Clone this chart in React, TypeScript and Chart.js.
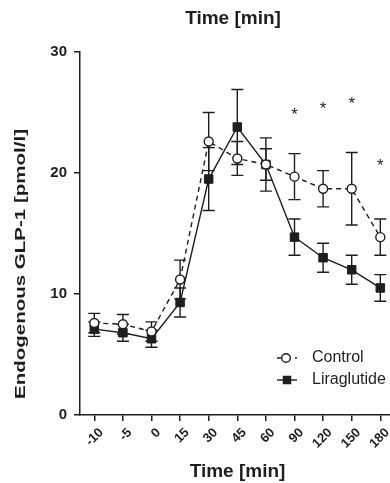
import { useEffect, useRef } from 'react';
import { Chart, registerables } from 'chart.js';

Chart.register(...registerables);

// ---- data ----
const timeLabels = ['-10', '-5', '0', '15', '30', '45', '60', '90', '120', '150', '180'];
const controlMean = [7.6, 7.5, 6.9, 11.2, 22.6, 21.2, 20.7, 19.7, 18.7, 18.7, 14.7];
const controlSem = [0.8, 0.8, 0.8, 1.6, 2.4, 1.4, 1.3, 1.9, 1.5, 3.0, 1.5];
const liraMean = [7.1, 6.8, 6.3, 9.3, 19.5, 23.8, 20.7, 14.7, 13.0, 12.0, 10.5];
const liraSem = [0.6, 0.7, 0.7, 1.2, 2.6, 3.1, 2.2, 1.5, 1.2, 1.2, 1.1];
const starLevel: (number | null)[] = [null, null, null, null, null, null, null, 25.0, 25.5, 25.9, 20.8];
const yMin = 0;
const yMax = 30;
const yStep = 10;
const seriesNames = ['Control', 'Liraglutide'];
const axisTitleX = 'Time [min]';
const axisTitleY = 'Endogenous GLP-1 [pmol/l]';

const FONT = '"Liberation Sans", Arial, Helvetica, sans-serif';
const INK = '#1e1e1e';

const errorBarPlugin = {
  id: 'errorBars',
  beforeDatasetsDraw(chart: any) {
    const { ctx } = chart;
    const xs = chart.scales.x;
    const ys = chart.scales.y;
    const sets: [number[], number[]][] = [
      [liraMean, liraSem],
      [controlMean, controlSem],
    ];
    ctx.save();
    ctx.strokeStyle = INK;
    ctx.lineWidth = 1.4;
    ctx.setLineDash([]);
    const cap = 6;
    sets.forEach(([m, e]) => {
      m.forEach((v, i) => {
        const px = xs.getPixelForValue(i);
        const top = ys.getPixelForValue(v + e[i]);
        const bot = ys.getPixelForValue(v - e[i]);
        ctx.beginPath();
        ctx.moveTo(px, top);
        ctx.lineTo(px, bot);
        ctx.moveTo(px - cap, top);
        ctx.lineTo(px + cap, top);
        ctx.moveTo(px - cap, bot);
        ctx.lineTo(px + cap, bot);
        ctx.stroke();
      });
    });
    ctx.restore();
  },
};

const decorPlugin = {
  id: 'decor',
  afterDatasetsDraw(chart: any) {
    const { ctx, chartArea } = chart;
    const xs = chart.scales.x;
    const ys = chart.scales.y;
    ctx.save();
    ctx.fillStyle = INK;
    // significance stars
    ctx.font = `17px ${FONT}`;
    ctx.textAlign = 'center';
    ctx.textBaseline = 'middle';
    starLevel.forEach((v, i) => {
      if (v == null) return;
      ctx.fillText('*', xs.getPixelForValue(i), ys.getPixelForValue(v) + 3);
    });

    // top title
    ctx.font = `bold 19px ${FONT}`;
    ctx.textAlign = 'center';
    ctx.textBaseline = 'middle';
    ctx.fillText(axisTitleX, chartArea.left + 153, 19);
    // bottom title
    ctx.fillText(axisTitleX, chartArea.left + 157.5, 472);

    // y title (rotated, stretched to the reference length)
    ctx.save();
    ctx.translate(21, chartArea.top + 212);
    ctx.rotate(-Math.PI / 2);
    ctx.font = `bold 14px ${FONT}`;
    const w = ctx.measureText(axisTitleY).width;
    ctx.scale(270 / w, 1);
    ctx.textAlign = 'center';
    ctx.textBaseline = 'middle';
    ctx.fillText(axisTitleY, 0, 0);
    ctx.restore();

    // legend
    const lx = chartArea.left + 197;
    const ly1 = chartArea.top + 306;
    const ly2 = chartArea.top + 328;
    ctx.strokeStyle = INK;
    ctx.lineWidth = 1.4;
    ctx.setLineDash([5, 4]);
    ctx.beginPath();
    ctx.moveTo(lx, ly1);
    ctx.lineTo(lx + 20, ly1);
    ctx.stroke();
    ctx.setLineDash([]);
    ctx.beginPath();
    ctx.arc(lx + 9, ly1, 4.3, 0, Math.PI * 2);
    ctx.fillStyle = '#fff';
    ctx.fill();
    ctx.stroke();
    ctx.beginPath();
    ctx.moveTo(lx, ly2);
    ctx.lineTo(lx + 20, ly2);
    ctx.stroke();
    ctx.fillStyle = INK;
    ctx.fillRect(lx + 10 - 4.25, ly2 - 4.25, 8.5, 8.5);
    ctx.font = `16px ${FONT}`;
    ctx.textAlign = 'left';
    ctx.textBaseline = 'middle';
    ctx.fillText(seriesNames[0], lx + 35, ly1);
    ctx.fillText(seriesNames[1], lx + 35, ly2);
    ctx.restore();
  },
};

export default function App() {
  const ref = useRef<HTMLCanvasElement | null>(null);
  useEffect(() => {
    if (!ref.current) return;
    const chart = new Chart(ref.current, {
      type: 'line',
      data: {
        labels: timeLabels,
        datasets: [
          {
            label: seriesNames[0],
            data: controlMean,
            borderColor: INK,
            borderWidth: 1.4,
            borderDash: [5, 4],
            pointStyle: 'circle',
            pointRadius: 4.5,
            pointBackgroundColor: '#fff',
            pointBorderColor: INK,
            pointBorderWidth: 1.4,
            tension: 0,
            fill: false,
          },
          {
            label: seriesNames[1],
            data: liraMean,
            borderColor: INK,
            borderWidth: 1.4,
            pointStyle: 'rect',
            pointRadius: 6,
            pointBackgroundColor: INK,
            pointBorderColor: INK,
            pointBorderWidth: 1,
            tension: 0,
            fill: false,
          },
        ],
      },
      options: {
        animation: false,
        responsive: false,
        events: [],
        layout: { padding: { left: 0, right: 25.4, top: 52, bottom: 0 } },
        plugins: {
          legend: { display: false },
          tooltip: { enabled: false },
          title: { display: false },
        },
        scales: {
          x: {
            type: 'category',
            offset: true,
            grid: { drawOnChartArea: false, offset: false, tickLength: 6, color: INK, lineWidth: 1.5 },
            border: { color: INK, width: 1.5 },
            ticks: {
              autoSkip: false,
              maxRotation: 45,
              minRotation: 45,
              padding: 4,
              labelOffset: 7,
              color: INK,
              font: { family: FONT, size: 13, weight: 'bold' },
            },
            afterFit: (s: any) => {
              s.height = 68;
            },
          },
          y: {
            min: yMin,
            max: yMax,
            grid: { drawOnChartArea: false, tickLength: 6, color: INK, lineWidth: 1.5 },
            border: { color: INK, width: 1.5 },
            ticks: {
              stepSize: yStep,
              padding: 7,
              color: INK,
              font: { family: FONT, size: 15, weight: 'bold' },
            },
            afterFit: (s: any) => {
              s.width = 80;
            },
          },
        },
      } as any,
      plugins: [errorBarPlugin, decorPlugin],
    });
    return () => chart.destroy();
  }, []);

  return (
    <div style={{ position: 'fixed', left: 0, top: 0, width: 390, height: 483, overflow: 'hidden', background: '#fff' }}>
      <canvas ref={ref} width={420} height={483} style={{ width: 420, height: 483, display: 'block' }} />
    </div>
  );
}
